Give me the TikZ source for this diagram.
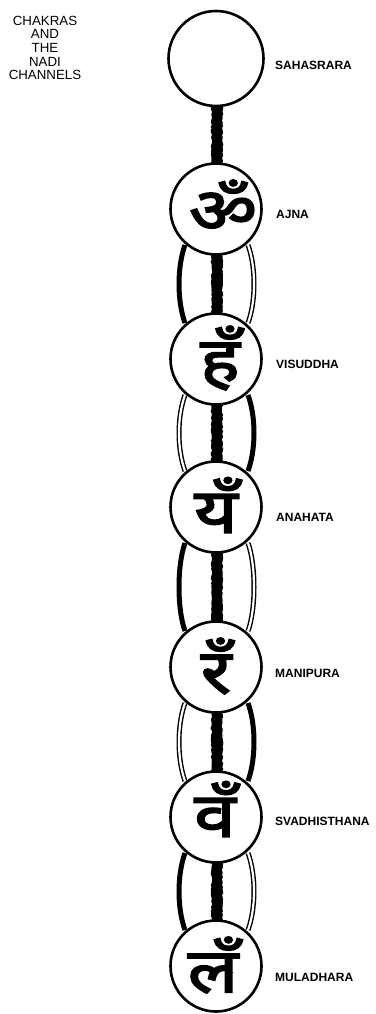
\documentclass[tikz,border=0pt]{standalone}
\usepackage{fontspec}
\usepackage{graphicx}
\setmainfont{Liberation Sans}
\newfontfamily\deva[Script=Devanagari, FakeBold=2.5]{Noto Sans}
\usetikzlibrary{decorations.pathmorphing}
\pgfdeclarelayer{background}
\pgfsetlayers{background,main}
\newcommand{\wideglyph}[1]{\scalebox{1.2}[1]{#1}}
\begin{document}
\begin{tikzpicture}[x=1pt,y=-1pt,
  chakra/.style={circle, draw, line width=2.6pt, fill=white, minimum size=91pt, inner sep=0pt},
  crown/.style={chakra, minimum size=95pt},
  chakralabel/.style={anchor=west, inner sep=0pt, font=\bfseries\fontsize{12}{12}\selectfont},
  bija/.style={inner sep=0pt, font=\deva\fontsize{62}{62}\selectfont},
  stemline/.style={line width=10pt},
  stemedge/.style={line width=1.2pt, decorate, decoration={random steps, segment length=2pt, amplitude=0.7pt}},
  nadithick/.style={line width=5pt},
  nadidouble/.style={double, double distance=2.2pt, line width=1.4pt},
]
\pgfmathsetseed{7}
\useasboundingbox (0,0) rectangle (375,1014);

% title
\node[align=center, inner sep=0pt, font=\fontsize{13.3}{13.6}\selectfont] (title) at (45,48)
  {CHAKRAS\\AND\\THE\\NADI\\CHANNELS};

% chakras
\node[crown] (sahasrara) at (216,58.5) {};
\node[chakra] (ajna) at (216,209) {};
\node[chakra] (visuddha) at (216,359) {};
\node[chakra] (anahata) at (216,507) {};
\node[chakra] (manipura) at (216,667) {};
\node[chakra] (svadhisthana) at (216,817) {};
\node[chakra] (muladhara) at (216,966) {};

% bija syllables
\node[bija] (om) at (223,206) {\wideglyph{ॐ}};
\node[bija] (ham) at (220,358) {\wideglyph{हँ}};
\node[bija] (yam) at (216,505) {\wideglyph{यँ}};
\node[bija] (ram) at (216,666) {\wideglyph{रँ}};
\node[bija] (vam) at (215,809) {\wideglyph{वँ}};
\node[bija] (lam) at (213,965) {\wideglyph{लँ}};

% labels
\node[chakralabel] (l1) at (275,65) {SAHASRARA};
\node[chakralabel] (l2) at (276,214) {AJNA};
\node[chakralabel] (l3) at (276,364) {VISUDDHA};
\node[chakralabel] (l4) at (276,517) {ANAHATA};
\node[chakralabel] (l5) at (275,673) {MANIPURA};
\node[chakralabel] (l6) at (275,821) {SVADHISTHANA};
\node[chakralabel] (l7) at (275,977) {MULADHARA};

\begin{pgfonlayer}{background}
\fill[white] (0,0) rectangle (375,1014);
% central channel
\foreach \a/\b in {sahasrara/ajna, ajna/visuddha, visuddha/anahata,
                   anahata/manipura, manipura/svadhisthana, svadhisthana/muladhara}{
  \draw[stemline] ([xshift=1pt]\a.center) -- ([xshift=1pt]\b.center);
  \draw[stemedge] ([xshift=-4pt]\a.center) -- ([xshift=-4pt]\b.center);
  \draw[stemedge] ([xshift=6pt]\a.center) -- ([xshift=6pt]\b.center);
}
% side channels
\foreach \a/\b/\ls/\rs in {ajna/visuddha/nadithick/nadidouble,
                           visuddha/anahata/nadidouble/nadithick,
                           anahata/manipura/nadithick/nadidouble,
                           manipura/svadhisthana/nadidouble/nadithick,
                           svadhisthana/muladhara/nadithick/nadidouble}{
  \draw[\ls] ([shift={(-31,36)}]\a.center) .. controls ([shift={(-39,58)}]\a.center)
        and ([shift={(-39,-58)}]\b.center) .. ([shift={(-31,-36)}]\b.center);
  \draw[\rs] ([shift={(32,36)}]\a.center) .. controls ([shift={(40,58)}]\a.center)
        and ([shift={(40,-58)}]\b.center) .. ([shift={(32,-36)}]\b.center);
}
\end{pgfonlayer}
\end{tikzpicture}
\end{document}
